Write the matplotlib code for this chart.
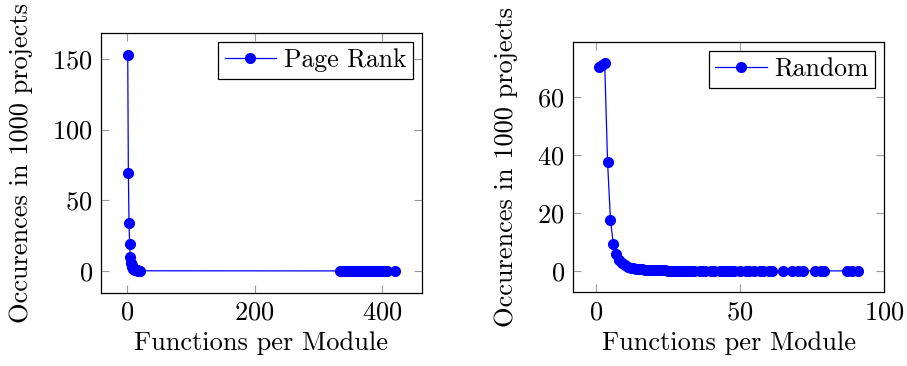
import matplotlib
matplotlib.use("Agg")
import matplotlib.pyplot as plt

plt.rcParams['font.family'] = 'serif'
plt.rcParams['font.serif'] = ['cmr10']
plt.rcParams['mathtext.fontset'] = 'cm'
plt.rcParams['axes.formatter.use_mathtext'] = True
plt.rcParams['font.size'] = 19

# functions per module vs. occurrences, page rank sampling
pr_x = [1, 2, 3, 4, 5, 6, 7, 8, 9, 10, 11, 12, 13, 14, 15, 16, 17, 18, 19, 20,
        334, 337, 340, 343, 346, 349, 352, 355, 358, 361, 364, 367, 370, 373,
        376, 379, 382, 385, 388, 391, 394, 397, 400, 403, 406, 408, 420]
pr_y = [153, 69, 34, 19, 10, 6, 4, 3, 2, 1.5, 1.2, 1.0, 0.8, 0.6, 0.5, 0.4, 0.3, 0.3, 0.2, 0.2,
        0.1, 0.1, 0.1, 0.1, 0.1, 0.1, 0.1, 0.1, 0.1, 0.1, 0.1, 0.1, 0.1, 0.1,
        0.1, 0.1, 0.1, 0.1, 0.1, 0.1, 0.1, 0.1, 0.1, 0.1, 0.1, 0.1, 0.1]

# functions per module vs. occurrences, random sampling
rnd_x = [1, 2, 3, 4, 5, 6, 7, 8, 9, 10, 11, 12, 13, 14, 15, 16, 17, 18, 19, 20,
         21, 22, 23, 24, 25, 26, 27, 28, 29, 30, 31, 32, 33, 34, 36, 37, 38, 40,
         41, 43, 44, 45, 46, 47, 48, 50, 52, 53, 55, 57, 58, 60, 61, 65, 68, 70,
         72, 76, 78, 79, 87, 89, 91]
rnd_y = [70.5, 71.2, 71.8, 37.7, 17.8, 9.3, 5.8, 3.8, 2.8, 2.0, 1.5, 1.2, 1.0, 0.8, 0.7, 0.6,
         0.5, 0.5, 0.4, 0.4, 0.3, 0.3, 0.3, 0.3, 0.2, 0.2, 0.2, 0.2, 0.2, 0.2, 0.1, 0.1,
         0.1, 0.1, 0.1, 0.1, 0.1, 0.1, 0.1, 0.1, 0.1, 0.1, 0.1, 0.1, 0.1, 0.1, 0.1, 0.1,
         0.1, 0.1, 0.1, 0.1, 0.1, 0.1, 0.1, 0.1, 0.1, 0.1, 0.1, 0.1, 0.1, 0.1, 0.1]

W, H = 907, 366
fig = plt.figure(figsize=(W / 100, H / 100), dpi=100)
ax1 = fig.add_axes([101 / W, 1 - 292.7 / H, 320.7 / W, 259.7 / H])
ax2 = fig.add_axes([573 / W, 1 - 292 / H, 311 / W, 250 / H])


def pad(lo, hi):
    d = (hi - lo) * 0.1
    return lo - d, hi + d


def draw(ax, x, y, name, xticks, yticks):
    ax.plot(x, y, color='#0000ff', lw=0.9, marker='o', ms=7,
            markerfacecolor='#0000ff', markeredgecolor='#0000ff', label=name)
    ax.set_xlim(*pad(min(x), max(x)))
    ax.set_ylim(*pad(0, max(y)))
    ax.set_xticks(xticks)
    ax.set_yticks(yticks)
    ax.tick_params(direction='in', length=6, width=0.8, color='#999999',
                   top=True, right=True, labelsize=19, pad=6)
    for s in ax.spines.values():
        s.set_linewidth(0.9)
    ax.set_xlabel('Functions per Module', fontsize=19, labelpad=5)
    ax.set_ylabel('Occurences in 1000 projects', fontsize=19, labelpad=14)
    leg = ax.legend(loc='upper right', fontsize=18.5, fancybox=False,
                    edgecolor='black', framealpha=1, handlelength=2.0,
                    borderpad=0.25, handletextpad=0.3, borderaxespad=0.35)
    leg.get_frame().set_linewidth(0.9)


draw(ax1, pr_x, pr_y, 'Page Rank', [0, 200, 400], [0, 50, 100, 150])
draw(ax2, rnd_x, rnd_y, 'Random', [0, 50, 100], [0, 20, 40, 60])

fig.savefig('out.png', dpi=100)
